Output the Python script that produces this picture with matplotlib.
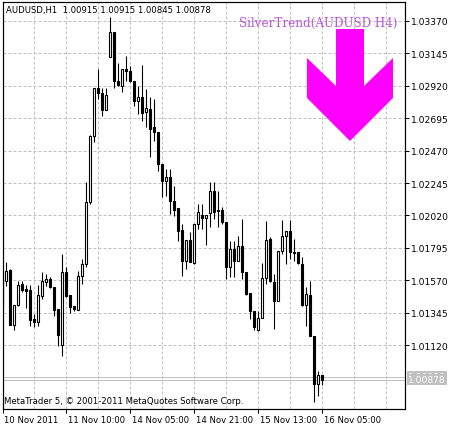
import matplotlib
matplotlib.use('Agg')
import matplotlib.pyplot as plt
import matplotlib.transforms as mtransforms
from matplotlib.patches import Polygon

# AUDUSD H1 bars (oldest first)
opens = [1.01558, 1.01564, 1.01641, 1.01259, 1.01398, 1.01544, 1.01509, 1.01502, 1.01301, 1.01280,
         1.01460, 1.01558, 1.01578, 1.01523, 1.01370, 1.01120, 1.01627, 1.01467, 1.01391, 1.01363,
         1.01599, 1.01683, 1.02113, 1.02571, 1.02905, 1.02870, 1.02752, 1.03120, 1.03294, 1.02953,
         1.02919, 1.03037, 1.03023, 1.02953, 1.02814, 1.02842, 1.02738, 1.02759, 1.02634, 1.02599,
         1.02377, 1.02259, 1.02287, 1.02120, 1.02071, 1.01919, 1.01703, 1.01849, 1.01689, 1.01960,
         1.02023, 1.02002, 1.02037, 1.02189, 1.02058, 1.02058, 1.01974, 1.01662, 1.01787, 1.01703,
         1.01808, 1.01627, 1.01481, 1.01356, 1.01224, 1.01308, 1.01585, 1.01856, 1.01558, 1.01426,
         1.01773, 1.01877, 1.01912, 1.01766, 1.01766, 1.01683, 1.01398, 1.01467, 1.01183, 1.00849,
         1.00915]
highs = [1.01578, 1.01696, 1.01648, 1.01398, 1.01564, 1.01564, 1.01537, 1.01537, 1.01335, 1.01537,
         1.01627, 1.01613, 1.01592, 1.01526, 1.01373, 1.01752, 1.01662, 1.01470, 1.01394, 1.01634,
         1.01717, 1.02252, 1.02578, 1.02908, 1.03037, 1.02905, 1.02905, 1.03398, 1.03297, 1.03078,
         1.03040, 1.03127, 1.03058, 1.02956, 1.02919, 1.03064, 1.02898, 1.02842, 1.02828, 1.02602,
         1.02380, 1.02342, 1.02342, 1.02224, 1.02074, 1.01960, 1.01852, 1.01905, 1.01963, 1.02099,
         1.02099, 1.02026, 1.02252, 1.02252, 1.02189, 1.02078, 1.01977, 1.01842, 1.01842, 1.01877,
         1.01995, 1.01630, 1.01484, 1.01359, 1.01356, 1.01689, 1.01981, 1.01870, 1.01613, 1.01776,
         1.01988, 1.01915, 1.01988, 1.01856, 1.01769, 1.01731, 1.01523, 1.01564, 1.01186, 1.00939,
         1.00915]
lows = [1.01370, 1.01530, 1.01259, 1.01224, 1.01392, 1.01488, 1.01377, 1.01252, 1.01245, 1.01252,
        1.01439, 1.01530, 1.01516, 1.01321, 1.01113, 1.01044, 1.01453, 1.01342, 1.01356, 1.01360,
        1.01544, 1.01662, 1.02099, 1.02530, 1.02828, 1.02710, 1.02749, 1.03117, 1.02905, 1.02919,
        1.02877, 1.02953, 1.02946, 1.02780, 1.02724, 1.02676, 1.02634, 1.02426, 1.02537, 1.02328,
        1.02148, 1.02155, 1.02030, 1.02016, 1.01842, 1.01599, 1.01648, 1.01693, 1.01683, 1.01926,
        1.01926, 1.01814, 1.01939, 1.01995, 1.01939, 1.01960, 1.01578, 1.01592, 1.01592, 1.01700,
        1.01578, 1.01467, 1.01301, 1.01224, 1.01217, 1.01305, 1.01544, 1.01555, 1.01231, 1.01423,
        1.01752, 1.01683, 1.01717, 1.01703, 1.01680, 1.01392, 1.01252, 1.01180, 1.00724, 1.00766,
        1.00845]
closes = [1.01391, 1.01634, 1.01262, 1.01398, 1.01537, 1.01502, 1.01495, 1.01294, 1.01280, 1.01467,
          1.01564, 1.01578, 1.01523, 1.01363, 1.01189, 1.01627, 1.01460, 1.01384, 1.01370, 1.01599,
          1.01683, 1.02113, 1.02571, 1.02905, 1.02870, 1.02752, 1.02856, 1.03294, 1.02953, 1.02926,
          1.03037, 1.03023, 1.02953, 1.02814, 1.02842, 1.02731, 1.02766, 1.02620, 1.02599, 1.02377,
          1.02259, 1.02287, 1.02120, 1.02058, 1.01912, 1.01703, 1.01849, 1.01696, 1.01960, 1.02044,
          1.02002, 1.02023, 1.02189, 1.02044, 1.02051, 1.01974, 1.01662, 1.01787, 1.01703, 1.01808,
          1.01627, 1.01474, 1.01356, 1.01245, 1.01308, 1.01585, 1.01849, 1.01561, 1.01426, 1.01773,
          1.01877, 1.01912, 1.01766, 1.01759, 1.01686, 1.01398, 1.01474, 1.01186, 1.00849, 1.00915,
          1.00878]

price_levels = [1.03370, 1.03145, 1.02920, 1.02695, 1.02470, 1.02245,
                1.02020, 1.01795, 1.01570, 1.01345, 1.01120, 1.00895]
price_labels = ['1.03370', '1.03145', '1.02920', '1.02695', '1.02470', '1.02245',
                '1.02020', '1.01795', '1.01570', '1.01345', '1.01120']
time_ticks = [0, 16, 32, 48, 64, 80]
time_labels = ['10 Nov 2011', '11 Nov 10:00', '14 Nov 05:00', '14 Nov 21:00',
               '15 Nov 13:00', '16 Nov 05:00']
grid_bars = [8, 16, 24, 32, 40, 48, 56, 64, 72, 80, 88, 96]
ask_price, bid_price = 1.00900, 1.00878

plt.rcParams['font.family'] = ['DejaVu Sans']
PX = 0.72  # one pixel in points at 100 dpi
W, H = 458, 431
FS_TXT = 6.15   # header, footer, time scale
FS_NUM = 6.6    # price scale

fig = plt.figure(figsize=(W / 100, H / 100), dpi=100)
ax = fig.add_axes([2.5 / W, (H - 410) / H, 402.5 / W, 407.3 / H])
ax.set_xlim(0.05, 100.675)
ax.set_ylim(1.006756, 1.03504)

grid_kw = dict(color='#C0C0C0', lw=PX, ls=(0, (3, 2)), zorder=1)
for g in grid_bars:
    ax.axvline(g, **grid_kw)
for lvl in price_levels:
    ax.axhline(lvl, **grid_kw)

# bid / ask lines
ax.axhline(ask_price, color='#C0C0C0', lw=PX, zorder=1.5)
ax.axhline(bid_price, color='#C0C0C0', lw=PX, zorder=1.5)

# candles
idx = list(range(len(opens)))
ax.vlines(idx, lows, highs, color='black', lw=PX * 1.1, zorder=2)
bottoms = [min(o, c) for o, c in zip(opens, closes)]
heights = [abs(c - o) for o, c in zip(opens, closes)]
faces = ['white' if c > o else 'black' for o, c in zip(opens, closes)]
ax.bar(idx, heights, bottom=bottoms, width=0.5, color=faces,
       edgecolor='black', linewidth=PX * 1.1, zorder=3)

# axes frame and ticks
for s in ax.spines.values():
    s.set_linewidth(PX * 1.2)
ax.yaxis.tick_right()
ax.set_yticks(price_levels[:len(price_labels)])
ax.set_yticklabels(price_labels)
ax.set_xticks(time_ticks)
ax.set_xticklabels(time_labels)
ax.tick_params(axis='both', direction='out', length=3, width=PX, colors='black')
ax.tick_params(axis='y', pad=1.5, labelsize=FS_NUM)
ax.tick_params(axis='x', pad=1.4, labelsize=FS_TXT)
shift = mtransforms.ScaledTranslation(1.0 / 72, 0, fig.dpi_scale_trans)
for lab in ax.get_xticklabels():
    lab.set_ha('left')
    lab.set_transform(lab.get_transform() + shift)

# header and footer texts
ax.text(0.009, 0.981, 'AUDUSD,H1  1.00915 1.00915 1.00845 1.00878',
        transform=ax.transAxes, fontsize=FS_TXT, va='center', ha='left', zorder=5)
ax.text(0.004, 0.021, 'MetaTrader 5, \u00a9 2001-2011 MetaQuotes Software Corp.',
        transform=ax.transAxes, fontsize=FS_TXT, va='center', ha='left', zorder=5)

# SilverTrend indicator label and arrow
fig.text(318 / W, 1 - 23 / H, 'SilverTrend(AUDUSD H4)', color='#BA55D3',
         family='DejaVu Serif', fontsize=8.6, ha='center', va='center')
arrow_px = [(336, 30), (364, 30), (364, 87), (393, 59), (393, 99),
            (350, 142), (307, 99), (307, 59), (336, 87)]
arrow = Polygon([(x / W, 1 - y / H) for x, y in arrow_px], closed=True,
                facecolor='#FF00FF', edgecolor='none', transform=fig.transFigure)
fig.patches.append(arrow)

# price labels on the right scale (ask label mostly hidden under the bid label)
lab_tr = mtransforms.blended_transform_factory(ax.transAxes, ax.transData)
box = dict(boxstyle='square,pad=0.12', fc='#C0C0C0', ec='none')
ax.text(1.008, ask_price + 0.00004, '1.00900', transform=lab_tr, color='white',
        fontsize=FS_NUM, va='center', ha='left', bbox=box, clip_on=False, zorder=6)
ax.text(1.008, bid_price, '1.00878', transform=lab_tr, color='white', fontsize=FS_NUM,
        va='center', ha='left', bbox=box, clip_on=False, zorder=7)

fig.savefig('out.png', dpi=100)
